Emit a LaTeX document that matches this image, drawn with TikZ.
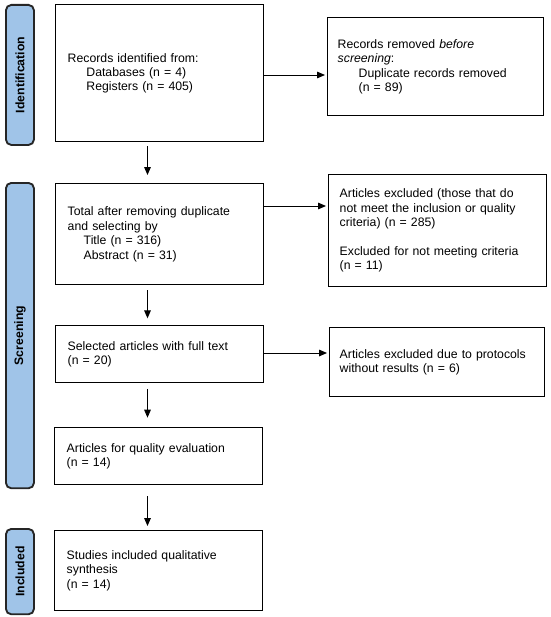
\documentclass[tikz,border=0pt]{standalone}
\usepackage{fontspec}
\setmainfont{Liberation Sans}
\usetikzlibrary{arrows.meta,calc}
\definecolor{sidebl}{RGB}{160,196,232}
\begin{document}
\begin{tikzpicture}[x=0.75pt,y=-0.75pt,
  box/.style={draw=black,line width=1.1pt,inner xsep=9pt,inner ysep=0pt,align=left,
    font=\fontsize{9.2pt}{10.8pt}\selectfont,anchor=north west},
  side/.style={draw=black!85,line width=1.4pt,fill=sidebl,rounded corners=4pt,anchor=north west,
    minimum width=21pt,inner sep=0pt},
  sidelabel/.style={rotate=90,font=\bfseries\fontsize{9.2pt}{11pt}\selectfont},
  arr/.style={line width=0.7pt,-{Triangle[length=6pt,width=5pt]}}]
\useasboundingbox (0,0) rectangle (550,617);
% sidebars
\node[side,minimum height=105pt] (sid) at (5,4) {};
\node[sidelabel] at (sid.center) {Identification};
\node[side,minimum height=229pt] (sscr) at (5,182) {};
\node[sidelabel] at (sscr.center) {Screening};
\node[side,minimum height=64pt] (sinc) at (5,528) {};
\node[sidelabel] at (sinc.center) {Included};
% main boxes
\node[box,text width=138pt,minimum height=102.75pt] (b1) at (55,4)
  {Records identified from:\\\hspace*{14pt}Databases (n = 4)\\\hspace*{14pt}Registers (n = 405)};
\node[box,text width=138pt,minimum height=75.75pt] (b2) at (55,183)
  {Total after removing duplicate\\and selecting by\\\hspace*{12pt}Title (n = 316)\\\hspace*{12pt}Abstract (n = 31)};
\node[box,text width=138pt,minimum height=42.75pt] (b3) at (55,325)
  {Selected articles with full text\\(n = 20)};
\node[box,text width=138pt,minimum height=42.75pt] (b4) at (54,427)
  {Articles for quality evaluation\\(n = 14)};
\node[box,text width=138pt,minimum height=60pt] (b5) at (54,530)
  {Studies included qualitative\\synthesis\\(n = 14)};
% right boxes
\node[box,text width=147pt,inner xsep=7.5pt,minimum height=73.5pt] (r1) at (327,17)
  {Records removed \emph{before}\\\emph{screening}:\\\hspace*{15.75pt}Duplicate records removed\\\hspace*{15.75pt}(n = 89)};
\node[box,text width=147pt,inner xsep=8.25pt,minimum height=84pt] (r2) at (328,174)
  {Articles excluded (those that do\\not meet the inclusion or quality\\criteria) (n = 285)\\[10.8pt]Excluded for not meeting criteria\\(n = 11)};
\node[box,text width=146pt,inner xsep=7.5pt,minimum height=51.75pt] (r3) at (329,327)
  {Articles excluded due to protocols\\without results (n = 6)};
% connectors
\coordinate (ax) at (147.5,0);
\coordinate (a1) at (0,75);
\coordinate (a2) at (0,206);
\coordinate (a3) at (0,353);
\draw[arr,shorten <=3pt,shorten >=6pt] (b1.south -| ax) -- (b2.north -| ax);
\draw[arr,shorten <=3.5pt,shorten >=5pt] (b2.south -| ax) -- (b3.north -| ax);
\draw[arr,shorten <=4pt,shorten >=7pt] (b3.south -| ax) -- (b4.north -| ax);
\draw[arr,shorten <=8pt,shorten >=3pt] (b4.south -| ax) -- (b5.north -| ax);
\draw[arr,shorten >=1.5pt] (b1.east |- a1) -- (r1.west |- a1);
\draw[arr,shorten >=1.5pt] (b2.east |- a2) -- (r2.west |- a2);
\draw[arr,shorten >=1.5pt] (b3.east |- a3) -- (r3.west |- a3);
\end{tikzpicture}
\end{document}
